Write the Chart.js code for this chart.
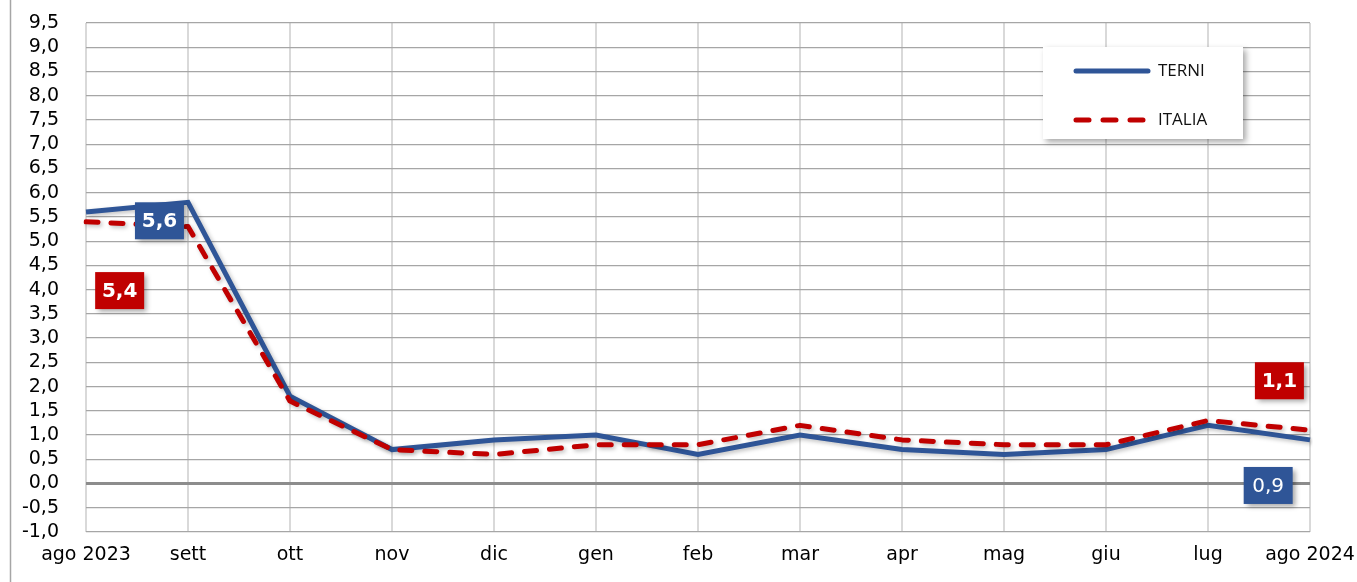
<!DOCTYPE html>
<html>
<head>
<meta charset="utf-8">
<script src="https://cdn.jsdelivr.net/npm/chart.js@4.4.1/dist/chart.umd.min.js"></script>
<style>
  html, body { margin: 0; padding: 0; background: #fff; }
  #wrap { width: 1357px; height: 582px; }
</style>
</head>
<body>
<div id="wrap"><canvas id="myChart" width="1357" height="582"></canvas></div>
<script>
// Data
var months = ['ago 2023', 'sett', 'ott', 'nov', 'dic', 'gen', 'feb', 'mar', 'apr', 'mag', 'giu', 'lug', 'ago 2024']
var terni = [5.6, 5.8, 1.8, 0.7, 0.9, 1.0, 0.6, 1.0, 0.7, 0.6, 0.7, 1.2, 0.9]
var italia = [5.4, 5.3, 1.7, 0.7, 0.6, 0.8, 0.8, 1.2, 0.9, 0.8, 0.8, 1.3, 1.1]

var BLUE = '#2f5597'
var RED = '#c00000'
var AXIS_FONT = '"DejaVu Sans", sans-serif'

// value boxes: text, colour, bold, anchor (category index, y value)
var boxes = [
  { text: '5,6', color: BLUE, bold: true, at: [0.72, 5.42] },
  { text: '5,4', color: RED, bold: true, at: [0.33, 3.98] },
  { text: '1,1', color: RED, bold: true, at: [11.70, 2.12] },
  { text: '0,9', color: BLUE, bold: false, at: [11.59, -0.04] }
]

const fmt = v => v.toFixed(1).replace('.', ',')

// frame line on the left, line shadows, value boxes, legend
var extras = {
  id: 'extras',
  beforeDraw(chart) {
    var c = chart.ctx
    c.save()
    c.strokeStyle = '#a6a6a6'
    c.lineWidth = 1.5
    c.beginPath()
    c.moveTo(10.5, 0)
    c.lineTo(10.5, chart.height)
    c.stroke()
    c.restore()
  },
  beforeDatasetDraw(chart) {
    var c = chart.ctx
    c.save()
    c.shadowColor = 'rgba(0,0,0,0.25)'
    c.shadowBlur = 4
    c.shadowOffsetX = 2
    c.shadowOffsetY = 2
  },
  afterDatasetDraw(chart) {
    chart.ctx.restore()
  },
  afterDraw(chart) {
    var c = chart.ctx
    var xs = chart.scales.x, ys = chart.scales.y
    boxes.forEach(b => {
      var cx = xs.getPixelForValue(b.at[0])
      var cy = ys.getPixelForValue(b.at[1])
      var w = 49, h = 37
      c.save()
      c.shadowColor = 'rgba(0,0,0,0.35)'
      c.shadowBlur = 5
      c.shadowOffsetX = 3
      c.shadowOffsetY = 3
      c.fillStyle = b.color
      c.fillRect(cx - w / 2, cy - h / 2, w, h)
      c.restore()
      c.save()
      c.fillStyle = '#fff'
      c.font = (b.bold ? 'bold ' : '') + '20px ' + AXIS_FONT
      c.textAlign = 'center'
      c.textBaseline = 'middle'
      c.fillText(b.text, cx, cy + 1)
      c.restore()
    })

    // legend box
    var lx = chart.chartArea.right - 267, ly = chart.chartArea.top + 24
    c.save()
    c.shadowColor = 'rgba(0,0,0,0.35)'
    c.shadowBlur = 6
    c.shadowOffsetX = 3
    c.shadowOffsetY = 3
    c.fillStyle = '#fff'
    c.fillRect(lx, ly, 200, 92)
    c.restore()
    c.save()
    c.lineCap = 'round'
    c.lineWidth = 5
    c.strokeStyle = BLUE
    c.beginPath()
    c.moveTo(lx + 33, ly + 24)
    c.lineTo(lx + 105, ly + 24)
    c.stroke()
    c.strokeStyle = RED
    c.setLineDash([13, 14])
    c.beginPath()
    c.moveTo(lx + 33, ly + 73)
    c.lineTo(lx + 105, ly + 73)
    c.stroke()
    c.setLineDash([])
    c.fillStyle = '#111'
    c.font = '17px "Open Sans", sans-serif'
    c.textBaseline = 'middle'
    c.fillText('TERNI', lx + 115, ly + 24)
    c.fillText('ITALIA', lx + 115, ly + 73)
    c.restore()
  }
}

var ctx = document.getElementById('myChart')
// eslint-disable-next-line no-unused-vars
var myChart = new Chart(ctx, {
  type: 'line',
  data: {
    labels: months,
    datasets: [{
      label: 'ITALIA',
      data: italia,
      borderColor: RED,
      backgroundColor: RED,
      borderWidth: 5,
      borderDash: [12, 13],
      borderCapStyle: 'round',
      borderJoinStyle: 'round',
      pointRadius: 0,
      tension: 0,
      order: 1
    }, {
      label: 'TERNI',
      data: terni,
      borderColor: BLUE,
      backgroundColor: BLUE,
      borderWidth: 5,
      borderJoinStyle: 'miter',
      pointRadius: 0,
      tension: 0,
      order: 2
    }]
  },
  options: {
    responsive: false,
    animation: false,
    layout: { padding: { left: 0, right: 47, top: 23, bottom: 0 } },
    plugins: {
      legend: { display: false },
      tooltip: { enabled: false }
    },
    scales: {
      x: {
        offset: false,
        afterFit: s => {
          s.height = 50
          s.paddingLeft = 0
          s.paddingRight = 0
        },
        grid: { color: '#d9d9d9', lineWidth: 2, drawTicks: false },
        border: { display: false },
        ticks: {
          color: '#000',
          padding: 12,
          maxRotation: 0,
          autoSkip: false,
          font: { family: AXIS_FONT, size: 19 }
        }
      },
      y: {
        min: -1,
        max: 9.5,
        afterFit: s => {
          s.width = 86
          s.paddingTop = 0
          s.paddingBottom = 0
        },
        grid: {
          drawTicks: false,
          color: c => c.tick && c.tick.value === 0 ? '#8c8c8c' : '#a6a6a6',
          lineWidth: c => c.tick && c.tick.value === 0 ? 3 : 1.2
        },
        border: { display: false },
        ticks: {
          stepSize: 0.5,
          autoSkip: false,
          color: '#000',
          padding: 27,
          callback: v => fmt(v),
          font: { family: AXIS_FONT, size: 19 }
        }
      }
    }
  },
  plugins: [extras]
})
</script>
</body>
</html>
